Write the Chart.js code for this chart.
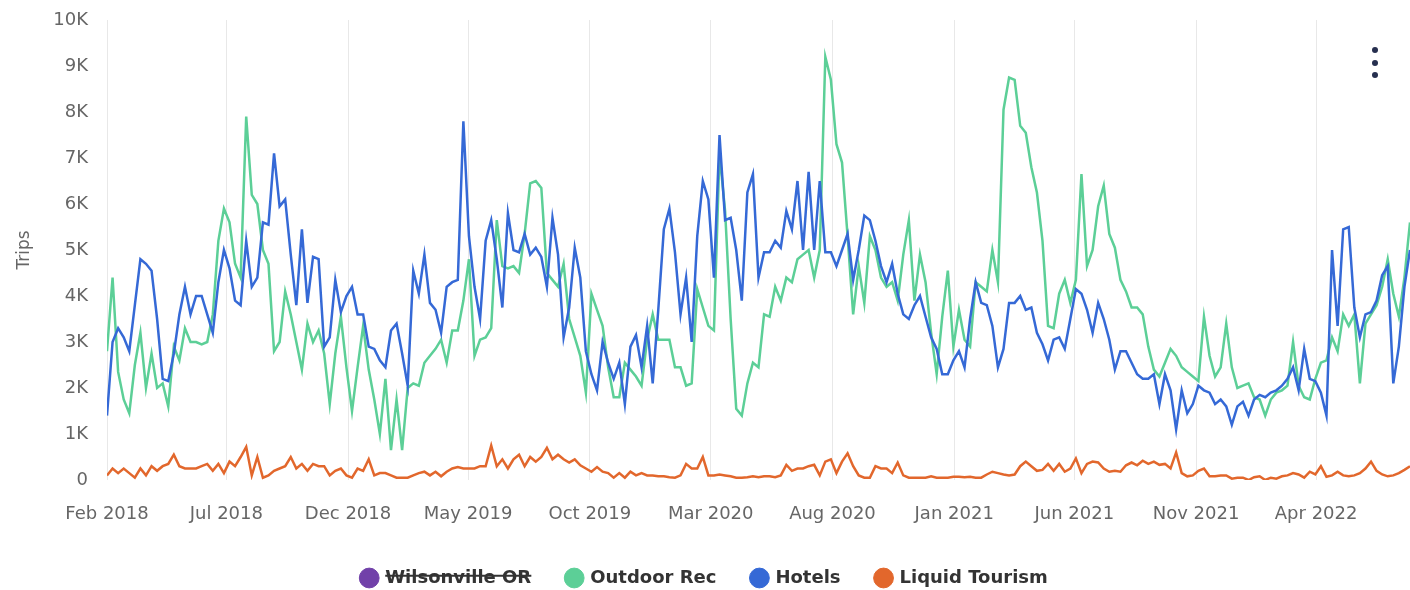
<!DOCTYPE html>
<html>
<head>
<meta charset="utf-8">
<title>Trips</title>
<script src="https://cdn.jsdelivr.net/npm/chart.js@4.4.1/dist/chart.umd.min.js"></script>
<style>
  html, body { margin: 0; padding: 0; background: #fff; overflow: hidden; }
  #wrap { position: relative; width: 1410px; height: 597px; }
  #menu { position: absolute; left: 1372px; top: 47px; width: 7px; }
  #menu span { display: block; width: 6px; height: 6px; border-radius: 50%; background: #262f4f; margin-bottom: 6.5px; }
</style>
</head>
<body>
<div id="wrap">
  <canvas id="chart" width="1410" height="597"></canvas>
  <div id="menu"><span></span><span></span><span></span></div>
</div>
<script>
// weekly series, first week starts Feb 2018
const startDate = new Date(2018, 1, 1);
const months = ["Jan", "Feb", "Mar", "Apr", "May", "Jun", "Jul", "Aug", "Sep", "Oct", "Nov", "Dec"];
const tickLabels = ["Feb 2018", "Jul 2018", "Dec 2018", "May 2019", "Oct 2019", "Mar 2020",
    "Aug 2020", "Jan 2021", "Jun 2021", "Nov 2021", "Apr 2022"];

const wilsonville = [];

const outdoorRec = [
    2800, 4400, 2350, 1750, 1450, 2500, 3200, 2000, 2750, 2000,
    2100, 1600, 2900, 2600, 3300, 3000, 3000, 2950, 3000, 3600,
    5200, 5900, 5600, 4700, 4400, 7900, 6200, 6000, 5000, 4700,
    2800, 3000, 4100, 3600, 3000, 2400, 3400, 3000, 3250, 2750,
    1650, 2750, 3550, 2450, 1500, 2450, 3350, 2400, 1750, 1000,
    2200, 650, 1750, 650, 2000, 2100, 2050, 2550, 2700, 2850,
    3050, 2550, 3250, 3250, 3900, 4800, 2700, 3050, 3100, 3300,
    5650, 4650, 4600, 4650, 4500, 5350, 6450, 6500, 6350, 4500,
    4350, 4200, 4700, 3500, 3100, 2700, 1900, 4050, 3700, 3350,
    2450, 1800, 1800, 2550, 2400, 2250, 2050, 3050, 3600, 3050,
    3050, 3050, 2450, 2450, 2050, 2100, 4150, 3750, 3350, 3250,
    7100, 5850, 3500, 1550, 1400, 2100, 2550, 2450, 3600, 3550,
    4200, 3900, 4400, 4300, 4800, 4900, 5000, 4400, 5000, 9200,
    8700, 7300, 6900, 5300, 3600, 4650, 3850, 5300, 5000, 4400,
    4200, 4300, 3900, 4900, 5650, 3900, 4900, 4300, 3200, 2300,
    3550, 4550, 2900, 3700, 3050, 2900, 4300, 4200, 4100, 5000,
    4300, 8050, 8750, 8700, 7700, 7550, 6800, 6250, 5200, 3350,
    3300, 4050, 4350, 3850, 4350, 6650, 4650, 5000, 5950, 6400,
    5350, 5050, 4350, 4100, 3750, 3750, 3600, 2900, 2400, 2250,
    2550, 2850, 2700, 2450, 2350, 2250, 2150, 3550, 2700, 2250,
    2450, 3400, 2450, 2000, 2050, 2100, 1800, 1750, 1400, 1750,
    1900, 1950, 2050, 3000, 2050, 1800, 1750, 2200, 2550, 2600,
    3100, 2800, 3600, 3350, 3600, 2100, 3400, 3600, 3800, 4200,
    4800, 4050, 3550, 4400, 5600
];

const hotels = [
    1400, 3000, 3300, 3100, 2800, 3800, 4800, 4700, 4550, 3500,
    2200, 2150, 2750, 3600, 4200, 3600, 4000, 4000, 3600, 3200,
    4300, 5000, 4600, 3900, 3800, 5200, 4200, 4400, 5600, 5550,
    7100, 5950, 6100, 4900, 3800, 5450, 3850, 4850, 4800, 2900,
    3100, 4350, 3650, 4000, 4200, 3600, 3600, 2900, 2850, 2600,
    2450, 3250, 3400, 2750, 2050, 4550, 4050, 4900, 3850, 3700,
    3200, 4200, 4300, 4350, 7800, 5300, 4200, 3500, 5200, 5650,
    4800, 3750, 5800, 5000, 4950, 5350, 4900, 5050, 4850, 4200,
    5700, 4900, 3100, 3750, 5050, 4400, 2800, 2300, 1950, 3000,
    2550, 2200, 2550, 1650, 2900, 3150, 2450, 3350, 2100, 3700,
    5450, 5900, 4950, 3600, 4400, 3000, 5300, 6500, 6100, 4400,
    7500, 5650, 5700, 5000, 3900, 6250, 6650, 4400, 4950, 4950,
    5200, 5050, 5850, 5450, 6500, 5000, 6700, 5000, 6500, 4950,
    4950, 4650, 5000, 5350, 4350, 5000, 5750, 5650, 5200, 4650,
    4300, 4700, 4050, 3600, 3500, 3800, 4000, 3550, 3100, 2850,
    2300, 2300, 2600, 2800, 2450, 3500, 4300, 3850, 3800, 3350,
    2450, 2850, 3850, 3850, 4000, 3700, 3750, 3200, 2950, 2600,
    3050, 3100, 2850, 3500, 4150, 4050, 3700, 3200, 3850, 3500,
    3050, 2400, 2800, 2800, 2550, 2300, 2200, 2200, 2300, 1650,
    2300, 1950, 1100, 1950, 1450, 1650, 2050, 1950, 1900, 1650,
    1750, 1600, 1200, 1600, 1700, 1400, 1750, 1850, 1800, 1900,
    1950, 2050, 2200, 2450, 1950, 2850, 2200, 2150, 1900, 1400,
    5000, 3350, 5450, 5500, 3750, 3100, 3600, 3650, 3900, 4450,
    4650, 2100, 2900, 4200, 5000
];

const liquidTourism = [
    100, 250, 150, 250, 150, 50, 250, 100, 300, 200,
    300, 350, 550, 300, 250, 250, 250, 300, 350, 200,
    350, 150, 400, 300, 500, 720, 100, 500, 50, 100,
    200, 250, 300, 500, 250, 350, 200, 350, 300, 300,
    100, 200, 250, 100, 50, 250, 200, 450, 100, 150,
    150, 100, 50, 50, 50, 100, 150, 180, 100, 180,
    80, 180, 250, 280, 250, 250, 250, 300, 300, 750,
    300, 450, 250, 450, 550, 300, 500, 400, 500, 700,
    450, 550, 450, 380, 450, 320, 250, 180, 280, 180,
    150, 50, 150, 50, 180, 100, 150, 100, 100, 80,
    80, 60, 50, 100, 350, 250, 250, 500, 100, 100,
    120, 100, 80, 50, 50, 60, 80, 60, 80, 80,
    60, 100, 330, 200, 250, 250, 300, 330, 100, 400,
    450, 150, 400, 580, 300, 100, 50, 50, 300, 250,
    250, 150, 380, 100, 50, 50, 50, 50, 80, 50,
    50, 50, 70, 70, 60, 70, 50, 50, 120, 180,
    150, 120, 100, 120, 300, 400, 300, 200, 220, 350,
    200, 350, 180, 250, 470, 150, 350, 400, 380, 250,
    180, 200, 180, 320, 380, 320, 420, 350, 400, 330,
    350, 250, 600, 150, 80, 100, 200, 250, 80, 80,
    100, 100, 30, 50, 50, 0, 60, 80, 0, 50,
    30, 80, 100, 150, 120, 50, 180, 120, 300, 70,
    100, 180, 100, 80, 100, 150, 250, 400, 200, 120,
    80, 100, 150, 220, 300
];

const DAY = 86400000;
const FONT = "'DejaVu Sans', sans-serif";

function dayOffset(label) {
    const [mon, yr] = label.split(" ");
    const d = new Date(Number(yr), months.indexOf(mon), 1);
    return Math.round((d - startDate) / DAY);
}

function toPoints(values) {
    return values.map((v, i) => ({ x: i * 7, y: v }));
}

const tickDays = tickLabels.map(dayOffset);
const lastDay = (hotels.length - 1) * 7;

function init() {
    const ctx = document.getElementById("chart").getContext("2d");

    new Chart(ctx, {
        type: "line",
        data: {
            datasets: [
                {
                    label: "Wilsonville OR",
                    data: toPoints(wilsonville),
                    borderColor: "#7141a9",
                    backgroundColor: "#7141a9",
                    hidden: true,
                    order: 3,
                },
                {
                    label: "Outdoor Rec",
                    data: toPoints(outdoorRec),
                    borderColor: "#5ccf97",
                    backgroundColor: "#5ccf97",
                    order: 2,
                },
                {
                    label: "Hotels",
                    data: toPoints(hotels),
                    borderColor: "#3569d6",
                    backgroundColor: "#3569d6",
                    order: 1,
                },
                {
                    label: "Liquid Tourism",
                    data: toPoints(liquidTourism),
                    borderColor: "#e2672c",
                    backgroundColor: "#e2672c",
                    order: 0,
                },
            ],
        },
        options: {
            responsive: false,
            animation: false,
            layout: { padding: { top: 20, right: 0, bottom: 0, left: 0 } },
            elements: {
                point: { radius: 0 },
                line: { borderWidth: 2.5, tension: 0 },
            },
            plugins: {
                tooltip: { enabled: false },
                legend: {
                    position: "bottom",
                    labels: {
                        usePointStyle: true,
                        pointStyle: "circle",
                        boxWidth: 14,
                        boxHeight: 14,
                        padding: 36,
                        color: "#333",
                        font: { family: FONT, size: 18, weight: "bold" },
                        sort: (a, b) => a.datasetIndex - b.datasetIndex,
                    },
                },
            },
            scales: {
                x: {
                    type: "linear",
                    min: 0,
                    max: lastDay,
                    bounds: "data",
                    grid: { color: "#e8e8e8", drawTicks: false },
                    border: { display: false },
                    afterBuildTicks: (scale) => {
                        scale.ticks = tickDays.map((d) => ({ value: d }));
                    },
                    afterFit: (scale) => {
                        scale.height = 53;
                    },
                    ticks: {
                        autoSkip: false,
                        maxRotation: 0,
                        padding: 24,
                        color: "#666",
                        font: { family: FONT, size: 18 },
                        callback: (v, i) => tickLabels[i],
                    },
                },
                y: {
                    min: 0,
                    max: 10000,
                    grid: { display: false, drawTicks: false },
                    border: { display: false },
                    afterFit: (scale) => {
                        scale.width = 107;
                        scale.paddingTop = 0;
                        scale.paddingBottom = 0;
                    },
                    ticks: {
                        stepSize: 1000,
                        padding: 19,
                        color: "#666",
                        font: { family: FONT, size: 18 },
                        callback: (v) => (v === 0 ? "0" : v / 1000 + "K"),
                    },
                    title: {
                        display: true,
                        text: "Trips",
                        color: "#666",
                        font: { family: FONT, size: 17 },
                        padding: { top: 14, bottom: 0 },
                    },
                },
            },
        },
    });
}

document.addEventListener("DOMContentLoaded", init);
</script>
</body>
</html>
